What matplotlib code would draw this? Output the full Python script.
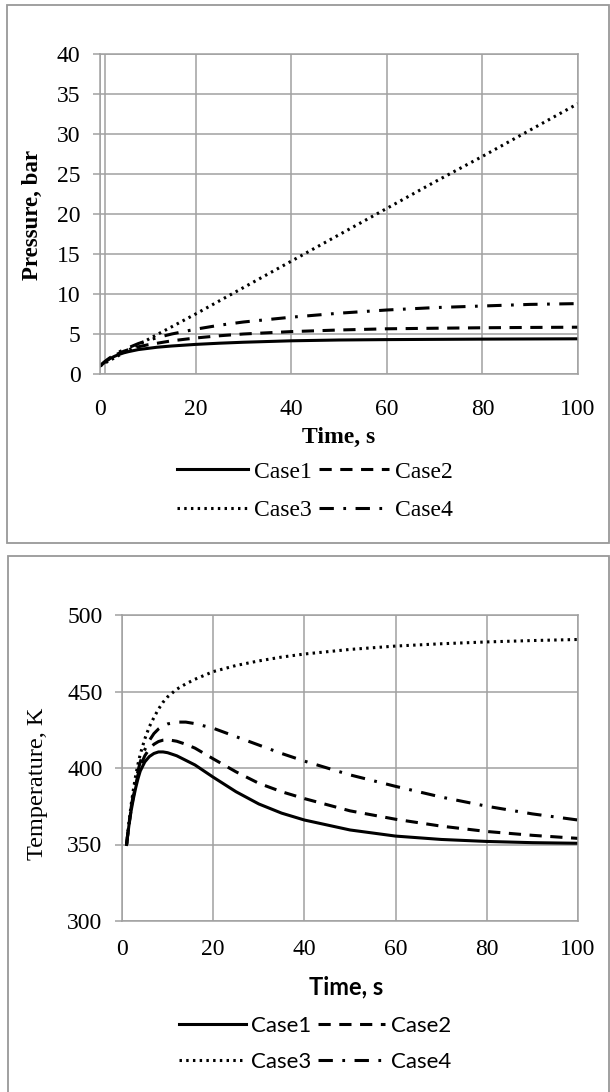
import numpy as np
import matplotlib
matplotlib.use('Agg')
import matplotlib.pyplot as plt
import matplotlib.patches as patches

# data
t_p = [0, 1, 2, 3, 4, 5, 6, 8, 10, 12, 15, 20, 25, 30, 40, 50, 60, 70, 80, 90, 100]
p_case1 = [1.0, 1.5, 1.9, 2.2, 2.45, 2.65, 2.8, 3.05, 3.2, 3.35, 3.5, 3.7, 3.85, 3.97,
           4.15, 4.25, 4.3, 4.33, 4.36, 4.38, 4.4]
p_case2 = [1.0, 1.5, 1.95, 2.3, 2.6, 2.85, 3.05, 3.4, 3.65, 3.85, 4.15, 4.5, 4.78, 5.0,
           5.3, 5.5, 5.65, 5.72, 5.78, 5.82, 5.85]
p_case3 = [1.0, 1.35, 1.7, 2.0, 2.35, 2.7, 3.0, 3.65, 4.3, 4.95, 5.9, 7.5, 9.15, 10.8,
           14.1, 17.4, 20.7, 24.0, 27.2, 30.5, 33.8]
p_case4 = [1.0, 1.55, 2.0, 2.4, 2.75, 3.05, 3.3, 3.8, 4.2, 4.55, 5.0, 5.6, 6.1, 6.5,
           7.1, 7.6, 8.0, 8.3, 8.5, 8.7, 8.8]

t_T = [1, 1.5, 2, 2.5, 3, 3.5, 4, 5, 6, 7, 8, 9, 10, 12, 14, 16, 18, 20, 25, 30, 35, 40,
       50, 60, 70, 80, 90, 100]
T_case1 = [350, 362, 372, 380, 387, 393, 398, 404, 407.5, 409.5, 410.5, 410.5, 410, 408,
           405, 402, 398, 394, 384.5, 376.5, 370.5, 366, 359.5, 355.5, 353.3, 352, 351.2, 350.8]
T_case2 = [350, 362.5, 373, 381.5, 389, 395.5, 401, 408, 412.5, 415.5, 417.3, 418.2, 418.5, 417.5,
           415.5, 413, 409.5, 406, 397.5, 390, 384.5, 380, 372, 366.5, 362, 358.5, 356, 354]
T_case3 = [350, 364, 376, 386, 395, 402.5, 409, 419, 427, 433, 438.5, 443, 446.5, 451.5,
           455, 458, 460.5, 463, 467, 470, 472.5, 474.5, 477.5, 479.7, 481.2, 482.4, 483.3, 484]
T_case4 = [350, 363, 374, 383, 391, 398, 404, 412, 418, 422.5, 425.5, 427.5, 428.8, 430,
           430, 429, 427.5, 426, 420.5, 415, 409.5, 404.5, 395.5, 388, 381, 375, 370, 366]

labels = ['Case1', 'Case2', 'Case3', 'Case4']
x_ticks = [0, 20, 40, 60, 80, 100]

W, H = 610, 1092
fig = plt.figure(figsize=(W/100, H/100), dpi=100)
grid_c = '#a0a0a0'
serif = 'Liberation Serif'
sans = 'Lato'
LW = 2.2

styles = [dict(ls='-'),
          dict(ls=(0, (4.0, 2.8))),
          dict(ls=(0, (0.8, 1.4))),
          dict(ls=(0, (4.7, 3.1, 0.9, 3.1)))]

def fx(px):
    return px / W

def fy(py):
    return 1 - py / H

def frame(ax, ymin, ymax, ystep, xpad):
    ax.set_xlim(0, 100)
    ax.set_ylim(ymin, ymax)
    ax.set_xticks(x_ticks)
    ax.set_yticks(np.arange(ymin, ymax + 1, ystep))
    ax.grid(True, color=grid_c, lw=1.1)
    ax.set_axisbelow(True)
    for s in ax.spines.values():
        s.set_color(grid_c)
        s.set_linewidth(1.1)
    ax.tick_params(axis='x', length=0, pad=xpad)
    ax.tick_params(axis='y', length=5, color=grid_c, width=1.1, pad=9)
    for lab in ax.get_xticklabels() + ax.get_yticklabels():
        lab.set_fontfamily(serif)
        lab.set_fontsize(17)

def legend(handles, cy, family, size):
    # column-first filling, so order as Case1, Case3, Case2, Case4
    h = [handles[0], handles[2], handles[1], handles[3]]
    fig.legend(handles=h, loc='center', bbox_to_anchor=(fx(315), fy(cy)), ncol=2,
               frameon=False, prop={'family': family, 'size': size}, handlelength=3.0,
               handletextpad=0.25, columnspacing=0.3, labelspacing=0.7)

# panel borders
fig.patches.append(patches.Rectangle((fx(7), fy(543)), fx(602), 538 / H, transform=fig.transFigure,
                                     fill=False, edgecolor='#999999', lw=1.3))
fig.patches.append(patches.Rectangle((fx(8), fy(1100)), fx(601), 544 / H, transform=fig.transFigure,
                                     fill=False, edgecolor='#999999', lw=1.3))

# pressure
ax1 = fig.add_axes([fx(100), fy(374), fx(478), (374 - 54) / H])
frame(ax1, 0, 40, 5, 18)
ax1.axvline(1, color=grid_c, lw=1.1, zorder=0.5)
lines = []
for y, st, lab in zip([p_case1, p_case2, p_case3, p_case4], styles, labels):
    l, = ax1.plot(t_p, y, color='black', lw=LW, label=lab, **st)
    lines.append(l)
fig.text(fx(32), fy(215), 'Pressure, bar', rotation=90, ha='center', va='center',
         fontfamily=serif, fontweight='bold', fontsize=16.5)
fig.text(fx(339), fy(437), 'Time, s', ha='center', va='center',
         fontfamily=serif, fontweight='bold', fontsize=17)
legend(lines, 491, serif, 17)

# temperature
ax2 = fig.add_axes([fx(122), fy(921), fx(456), (921 - 615) / H])
frame(ax2, 300, 500, 50, 13)
lines2 = []
for y, st, lab in zip([T_case1, T_case2, T_case3, T_case4], styles, labels):
    l, = ax2.plot(t_T, y, color='black', lw=LW, label=lab, **st)
    lines2.append(l)
fig.text(fx(38), fy(784), 'Temperature, K', rotation=90, ha='center', va='center',
         fontfamily=serif, fontsize=17.5)
fig.text(fx(346), fy(987), 'Time, s', ha='center', va='center',
         fontfamily=sans, fontweight='bold', fontsize=17)
legend(lines2, 1044, sans, 16)

fig.savefig('out.png', dpi=100)
